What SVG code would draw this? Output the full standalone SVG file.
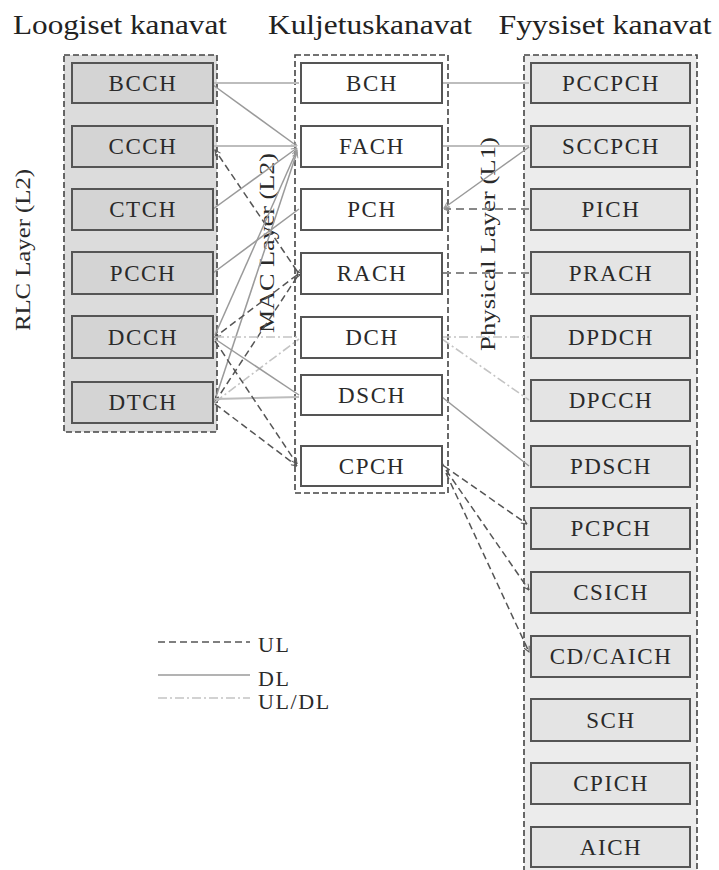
<svg xmlns="http://www.w3.org/2000/svg" width="719" height="870" viewBox="0 0 719 870">
<style>
.title{font-family:"Liberation Serif","Times New Roman",serif;font-size:28px;fill:#222}
.lbl{font-family:"Liberation Serif","Times New Roman",serif;font-size:23px;fill:#2a2a2a;letter-spacing:1.6px;text-anchor:middle}
.rot{font-family:"Liberation Serif","Times New Roman",serif;font-size:22px;fill:#2a2a2a;text-anchor:middle}
.cont{stroke:#444;stroke-width:1.6;stroke-dasharray:6 3}
.bL{fill:#d4d4d4;stroke:#555;stroke-width:2}
.bM{fill:#fff;stroke:#555;stroke-width:2}
.bR{fill:#e4e4e4;stroke:#555;stroke-width:2}
.dl{stroke:#9a9a9a;stroke-width:1.5;fill:none}
.dlh{stroke:#bdbdbd;stroke-width:2;fill:none}
.ul{stroke:#555;stroke-width:1.5;stroke-dasharray:7 4;fill:none}
.ulg{stroke:#888;stroke-width:1.8;stroke-dasharray:8 5;fill:none}
.udl{stroke:#c4c4c4;stroke-width:1.6;stroke-dasharray:9 3 2 3;fill:none}
</style>
<defs>
<marker id="ad" viewBox="0 0 10 10" refX="9" refY="5" markerWidth="7" markerHeight="7" orient="auto" markerUnits="userSpaceOnUse">
<path d="M1,1 L9,5 L1,9" fill="none" stroke="#555" stroke-width="1.4"/>
</marker>
<marker id="ag" viewBox="0 0 10 10" refX="9" refY="5" markerWidth="7" markerHeight="7" orient="auto" markerUnits="userSpaceOnUse">
<path d="M1,1 L9,5 L1,9" fill="none" stroke="#9a9a9a" stroke-width="1.4"/>
</marker>
</defs>
<rect width="719" height="870" fill="#fff"/>

<g id="titles">
<text class="title" x="120" y="34" text-anchor="middle" textLength="214" lengthAdjust="spacingAndGlyphs">Loogiset kanavat</text>
<text class="title" x="370" y="34" text-anchor="middle" textLength="204" lengthAdjust="spacingAndGlyphs">Kuljetuskanavat</text>
<text class="title" x="605" y="34" text-anchor="middle" textLength="213" lengthAdjust="spacingAndGlyphs">Fyysiset kanavat</text>
</g>

<g id="containers">
<rect id="rlc" x="64" y="55" width="153" height="377" fill="#dcdcdc" class="cont"/>
<rect id="mac" x="295" y="55" width="153" height="438" fill="#fff" class="cont"/>
<rect id="phy" x="524" y="55" width="173" height="825" fill="#ececec" class="cont"/>
</g>

<g id="layer-labels">
<text class="rot" transform="translate(30,250) rotate(-90)" textLength="162" lengthAdjust="spacingAndGlyphs">RLC Layer (L2)</text>
<text class="rot" transform="translate(274,243) rotate(-90)" textLength="180" lengthAdjust="spacingAndGlyphs">MAC Layer (L2)</text>
<text class="rot" transform="translate(495,244) rotate(-90)" textLength="214" lengthAdjust="spacingAndGlyphs">Physical Layer (L1)</text>
</g>

<g id="connectors">
<line class="dlh" x1="213" y1="83" x2="299" y2="83"/>
<line class="dl" x1="213" y1="85" x2="297" y2="146" marker-end="url(#ag)"/>
<line class="dlh" x1="213" y1="146" x2="297" y2="146"/>
<line class="ul" x1="297" y1="271" x2="215" y2="150" marker-start="url(#ad)" marker-end="url(#ad)"/>
<line class="dl" x1="213" y1="209" x2="297" y2="148" marker-end="url(#ag)"/>
<line class="dl" x1="213" y1="273" x2="299" y2="209"/>
<line class="dl" x1="215" y1="335" x2="297" y2="150" marker-end="url(#ag)"/>
<line class="dl" x1="215" y1="400" x2="297" y2="152" marker-end="url(#ag)"/>
<line class="ul" x1="297" y1="275" x2="215" y2="337" marker-start="url(#ad)" marker-end="url(#ad)"/>
<line class="ul" x1="297" y1="277" x2="215" y2="402" marker-start="url(#ad)" marker-end="url(#ad)"/>
<line class="udl" x1="215" y1="337" x2="299" y2="337"/>
<line class="udl" x1="215" y1="402" x2="299" y2="339"/>
<line class="dl" x1="215" y1="339" x2="299" y2="395"/>
<line class="dlh" x1="215" y1="399" x2="299" y2="397"/>
<line class="ul" x1="215" y1="341" x2="297" y2="464" marker-end="url(#ad)"/>
<line class="ul" x1="215" y1="404" x2="297" y2="466" marker-end="url(#ad)"/>
<line class="dlh" x1="442" y1="83" x2="529" y2="83"/>
<line class="dlh" x1="442" y1="146" x2="529" y2="146"/>
<line class="dl" x1="529" y1="147" x2="444" y2="208" marker-end="url(#ag)"/>
<line class="ulg" x1="529" y1="209" x2="444" y2="209" marker-end="url(#ag)"/>
<line class="ulg" x1="529" y1="273" x2="442" y2="273"/>
<line class="udl" x1="442" y1="337" x2="529" y2="337"/>
<line class="udl" x1="442" y1="339" x2="529" y2="400"/>
<line class="dl" x1="442" y1="397" x2="529" y2="466"/>
<line class="ul" x1="444" y1="466" x2="527" y2="524" marker-start="url(#ad)" marker-end="url(#ad)"/>
<line class="ul" x1="446" y1="470" x2="529" y2="590" marker-end="url(#ad)"/>
<line class="ul" x1="446" y1="473" x2="529" y2="652" marker-end="url(#ad)"/>
</g>

<g id="BCCH"><rect class="bL" x="72" y="63" width="141" height="40"/><text class="lbl" x="143" y="91">BCCH</text></g>
<g id="CCCH"><rect class="bL" x="72" y="126" width="141" height="41"/><text class="lbl" x="143" y="154">CCCH</text></g>
<g id="CTCH"><rect class="bL" x="72" y="189" width="141" height="41"/><text class="lbl" x="143" y="217">CTCH</text></g>
<g id="PCCH"><rect class="bL" x="72" y="252" width="141" height="42"/><text class="lbl" x="143" y="281">PCCH</text></g>
<g id="DCCH"><rect class="bL" x="72" y="316" width="141" height="42"/><text class="lbl" x="143" y="345">DCCH</text></g>
<g id="DTCH"><rect class="bL" x="72" y="382" width="141" height="41"/><text class="lbl" x="143" y="410">DTCH</text></g>

<g id="BCH"><rect class="bM" x="301" y="63" width="141" height="40"/><text class="lbl" x="372" y="91">BCH</text></g>
<g id="FACH"><rect class="bM" x="301" y="126" width="141" height="41"/><text class="lbl" x="372" y="154">FACH</text></g>
<g id="PCH"><rect class="bM" x="301" y="189" width="141" height="41"/><text class="lbl" x="372" y="217">PCH</text></g>
<g id="RACH"><rect class="bM" x="301" y="253" width="141" height="41"/><text class="lbl" x="372" y="281">RACH</text></g>
<g id="DCH"><rect class="bM" x="301" y="317" width="141" height="41"/><text class="lbl" x="372" y="345">DCH</text></g>
<g id="DSCH"><rect class="bM" x="301" y="375" width="141" height="40"/><text class="lbl" x="372" y="403">DSCH</text></g>
<g id="CPCH"><rect class="bM" x="301" y="446" width="141" height="40"/><text class="lbl" x="372" y="474">CPCH</text></g>

<g id="PCCPCH"><rect class="bR" x="531" y="63" width="159" height="40"/><text class="lbl" x="611" y="91">PCCPCH</text></g>
<g id="SCCPCH"><rect class="bR" x="531" y="126" width="159" height="41"/><text class="lbl" x="611" y="154">SCCPCH</text></g>
<g id="PICH"><rect class="bR" x="531" y="189" width="159" height="41"/><text class="lbl" x="611" y="217">PICH</text></g>
<g id="PRACH"><rect class="bR" x="531" y="252" width="159" height="42"/><text class="lbl" x="611" y="281">PRACH</text></g>
<g id="DPDCH"><rect class="bR" x="531" y="316" width="159" height="42"/><text class="lbl" x="611" y="345">DPDCH</text></g>
<g id="DPCCH"><rect class="bR" x="531" y="380" width="159" height="41"/><text class="lbl" x="611" y="408">DPCCH</text></g>
<g id="PDSCH"><rect class="bR" x="531" y="446" width="159" height="41"/><text class="lbl" x="611" y="474">PDSCH</text></g>
<g id="PCPCH"><rect class="bR" x="531" y="508" width="159" height="41"/><text class="lbl" x="611" y="536">PCPCH</text></g>
<g id="CSICH"><rect class="bR" x="531" y="572" width="159" height="41"/><text class="lbl" x="611" y="600">CSICH</text></g>
<g id="CDCAICH"><rect class="bR" x="531" y="636" width="159" height="41"/><text class="lbl" x="611" y="664">CD/CAICH</text></g>
<g id="SCH"><rect class="bR" x="531" y="699" width="159" height="42"/><text class="lbl" x="611" y="728">SCH</text></g>
<g id="CPICH"><rect class="bR" x="531" y="763" width="159" height="41"/><text class="lbl" x="611" y="791">CPICH</text></g>
<g id="AICH"><rect class="bR" x="531" y="827" width="159" height="40"/><text class="lbl" x="611" y="855">AICH</text></g>

<g id="legend">
<line class="ul" x1="158" y1="642" x2="250" y2="642"/>
<text class="lbl" x="258" y="652" style="text-anchor:start;font-size:22px">UL</text>
<line class="dl" x1="158" y1="675" x2="250" y2="675"/>
<text class="lbl" x="258" y="686" style="text-anchor:start;font-size:22px">DL</text>
<line class="udl" x1="158" y1="698" x2="250" y2="698"/>
<text class="lbl" x="258" y="709" style="text-anchor:start;font-size:22px">UL/DL</text>
</g>
</svg>
